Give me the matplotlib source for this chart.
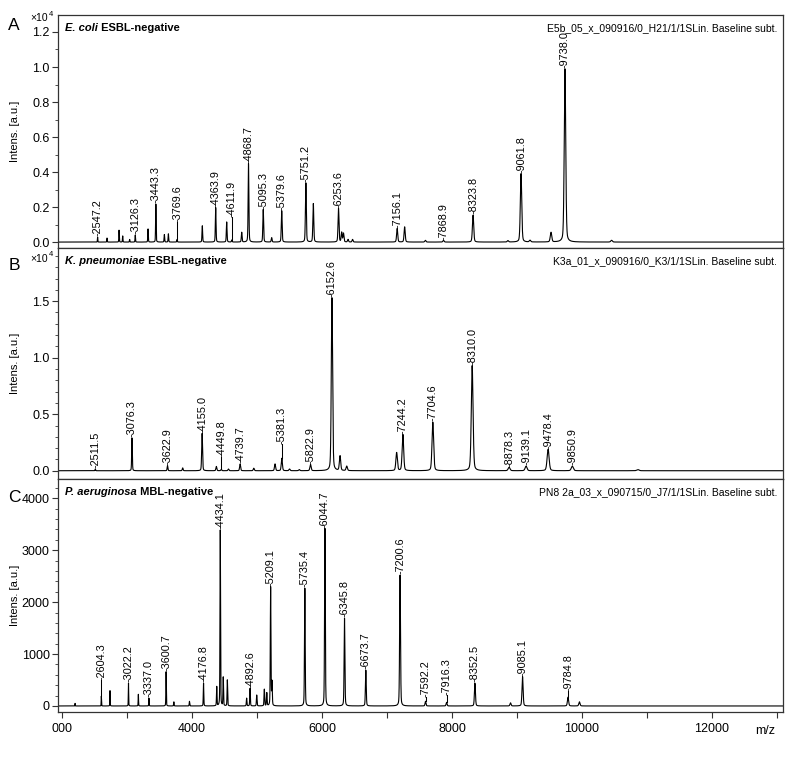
import numpy as np
import matplotlib
matplotlib.use('Agg')
import matplotlib.pyplot as plt
from matplotlib.ticker import MultipleLocator, FuncFormatter

plt.rcParams['font.family'] = ['Liberation Sans', 'DejaVu Sans']

# --- A: E. coli, labelled peaks (m/z, intensity) ---
ecoli_mz = [2547.2, 3126.3, 3443.3, 3769.6, 4363.9, 4611.9, 4868.7, 5095.3,
            5379.6, 5751.2, 6253.6, 7156.1, 7868.9, 8323.8, 9061.8, 9738.0]
ecoli_int = [280, 400, 2170, 150, 1980, 120, 4480, 1860,
             1790, 3380, 1920, 780, 100, 1540, 3910, 9900]
# unlabelled peaks
ecoli_mz2 = [2692, 2877, 2933, 3040, 3323, 3574, 3636, 4158, 4533, 4764, 5225,
             5866, 6302, 6330, 6400, 6470, 7271, 7590, 8860, 9200, 9523, 10455]
ecoli_int2 = [230, 680, 350, 150, 750, 430, 470, 930, 1150, 560, 250,
              2200, 550, 500, 150, 150, 870, 100, 80, 100, 550, 100]

# --- B: K. pneumoniae ---
kpn_mz = [2511.5, 3076.3, 3622.9, 4155.0, 4449.8, 4739.7, 5381.3, 5822.9,
          6152.6, 7244.2, 7704.6, 8310.0, 8878.3, 9139.1, 9478.4, 9850.9]
kpn_int = [150, 2900, 450, 3300, 120, 600, 1100, 550,
           15300, 3200, 4300, 9300, 300, 400, 1900, 400]
kpn_mz2 = [3856, 4374, 4560, 4950, 5277, 5500, 5650, 6277, 6380, 7148, 10860]
kpn_int2 = [250, 380, 150, 220, 600, 150, 100, 1300, 400, 1600, 100]

# --- C: P. aeruginosa ---
pae_mz = [2604.3, 3022.2, 3337.0, 3600.7, 4176.8, 4434.1, 4892.6, 5209.1, 5735.4,
          6044.7, 6345.8, 6673.7, 7200.6, 7592.2, 7916.3, 8352.5, 9085.1, 9784.8]
pae_int = [190, 440, 150, 660, 440, 3390, 340, 2290, 2270,
           3420, 1690, 690, 2520, 90, 70, 440, 565, 170]
pae_mz2 = [2200, 2738, 3174, 3720, 3960, 4380, 4480, 4543, 4840, 4995, 5112,
           5150, 5230, 8900, 9960]
pae_int2 = [50, 295, 225, 80, 90, 370, 550, 500, 150, 210, 320,
            250, 450, 60, 80]

titles = [('E. coli', ' ESBL-negative'),
          ('K. pneumoniae', ' ESBL-negative'),
          ('P. aeruginosa', ' MBL-negative')]
run_names = ['E5b_05_x_090916/0_H21/1/1SLin. Baseline subt.',
             'K3a_01_x_090916/0_K3/1/1SLin. Baseline subt.',
             'PN8 2a_03_x_090715/0_J7/1/1SLin. Baseline subt.']
panel_letters = ['A', 'B', 'C']

XMIN, XMAX = 1938, 13092


def spectrum(x, mz, inten, rel_width):
    """Sum of pseudo-Voigt peaks."""
    y = np.zeros_like(x)
    for m, h in zip(mz, inten):
        g = m * rel_width
        d = (x - m) / g
        y += h * (0.7 * np.exp(-np.log(2) * d ** 2) + 0.3 / (1 + d ** 2))
    return y


def draw_panel(ax, mz, inten, mz2, inten2, rel_width, leaders):
    all_mz = list(mz) + list(mz2)
    all_int = list(inten) + list(inten2)
    x = np.linspace(XMIN, XMAX, 24000)
    y = spectrum(x, all_mz, all_int, rel_width)
    ax.plot(x, y, color='black', lw=0.8)

    ymin, ymax = ax.get_ylim()
    gap = (ymax - ymin) * 0.003
    for m in mz:
        top = spectrum(np.array([m]), all_mz, all_int, rel_width)[0]
        ylab = top + gap
        if m in leaders:
            ylab = leaders[m]
            ax.plot([m, m], [top, ylab], color='black', lw=0.75)
        ax.text(m, ylab, f'-{m:.1f}', rotation=90, ha='center', va='bottom',
                fontsize=7.8)


def main():
    fig = plt.figure(figsize=(7.97, 7.58), dpi=100)
    boxes = [[0.0728, 0.6728, 0.9096, 0.3074],
             [0.0728, 0.3681, 0.9096, 0.3047],
             [0.0728, 0.0607, 0.9096, 0.3074]]
    ylims = [(-340, 12970), (-730, 19700), (-116, 4372)]
    data = [(ecoli_mz, ecoli_int, ecoli_mz2, ecoli_int2, 0.0014,
             {3769.6: 1160, 4611.9: 1440}),
            (kpn_mz, kpn_int, kpn_mz2, kpn_int2, 0.0019,
             {4449.8: 1200, 5381.3: 2350}),
            (pae_mz, pae_int, pae_mz2, pae_int2, 0.0011,
             {2604.3: 500, 7592.2: 180, 7916.3: 210, 9784.8: 280})]
    majors = [2000, 5000, 1000]
    minors = [1000, 1000, 200]
    letter_y = [26, 266, 497]

    for i in range(3):
        ax = fig.add_axes(boxes[i])
        ax.set_xlim(XMIN, XMAX)
        ax.set_ylim(*ylims[i])
        mz, inten, mz2, inten2, w, leaders = data[i]
        draw_panel(ax, mz, inten, mz2, inten2, w, leaders)

        for s in ax.spines.values():
            s.set_color('#333333')
            s.set_linewidth(0.9)
        ax.yaxis.set_major_locator(MultipleLocator(majors[i]))
        ax.yaxis.set_minor_locator(MultipleLocator(minors[i]))
        if i < 2:
            ax.yaxis.set_major_formatter(FuncFormatter(lambda v, p: f'{v / 1e4:.1f}'))
        ax.tick_params(axis='y', which='major', direction='out', length=4,
                       width=0.8, labelsize=9, pad=2, color='#333333')
        ax.tick_params(axis='y', which='minor', direction='out', length=2,
                       width=0.6, color='#333333')
        ax.set_ylabel('Intens. [a.u.]', fontsize=8)
        ax.yaxis.set_label_coords(-0.052, 0.5)

        if i < 2:
            ax.set_xticks([])
        else:
            ticks = np.arange(2000, 13001, 1000)
            ax.set_xticks(ticks)
            ax.set_xticklabels(['000' if t == 2000 else (str(t) if t % 2000 == 0 else '')
                                for t in ticks])
            ax.tick_params(axis='x', direction='out', length=4, width=0.8,
                           labelsize=9, pad=4, color='#333333')

        hpx = boxes[i][3] * 758
        ty = 1 - 13 / hpx
        t1 = ax.text(0.0097, ty, titles[i][0], transform=ax.transAxes,
                     fontsize=8, fontweight='bold', fontstyle='italic',
                     va='center', ha='left')
        ax.annotate(titles[i][1], xy=(1, 0), xycoords=t1, va='bottom', ha='left',
                    fontsize=8, fontweight='bold')
        ax.text(0.9917, ty, run_names[i], transform=ax.transAxes, fontsize=7.5,
                va='center', ha='right')

        fig.text(14 / 797, 1 - letter_y[i] / 758, panel_letters[i], fontsize=12.5,
                 ha='center', va='center')
        if i < 2:
            top_px = 13 if i == 0 else 254
            fig.text(30 / 797, 1 - (top_px + 5) / 758, '×10', fontsize=7.5,
                     ha='left', va='center')
            fig.text(49 / 797, 1 - (top_px + 1) / 758, '4', fontsize=5.5,
                     ha='left', va='center')

    fig.text(765 / 797, 1 - 731 / 758, 'm/z', fontsize=9, ha='center', va='center')
    fig.savefig('out.png', dpi=100)


if __name__ == '__main__':
    main()
